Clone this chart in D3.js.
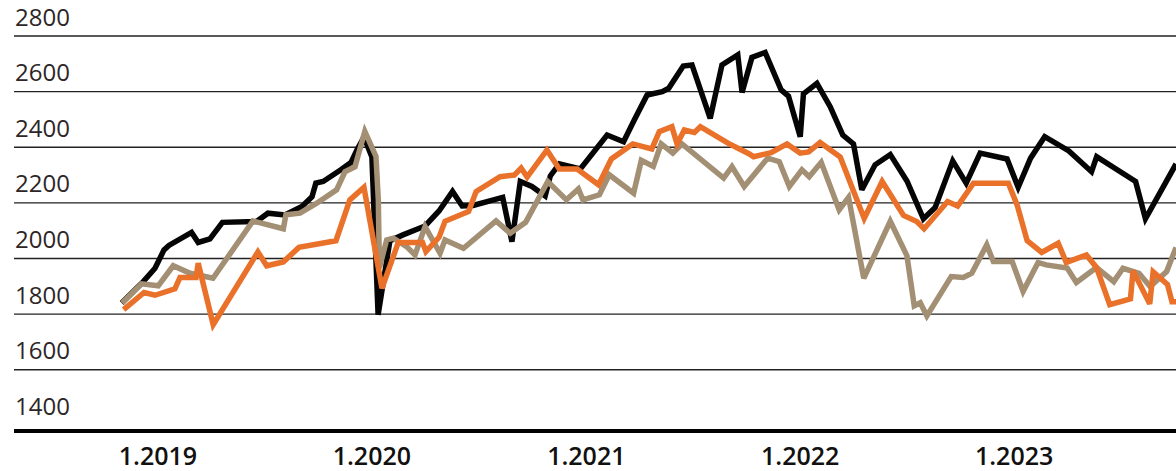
<!DOCTYPE html>
<html>
<head>
<meta charset="utf-8">
<script src="https://cdn.jsdelivr.net/npm/d3@7/dist/d3.min.js"></script>
<style>
  html, body { margin: 0; padding: 0; background: #fff; }
  svg { display: block; }
</style>
</head>
<body>
<svg id="chart" width="1176" height="471"></svg>
<script>
// Index levels, dates given as decimal years
const blackDates = [2018.830, 2018.931, 2018.986, 2019.028, 2019.051, 2019.157, 2019.188, 2019.243, 2019.301, 2019.461,
  2019.514, 2019.593, 2019.673, 2019.720, 2019.738, 2019.772, 2019.855, 2019.902, 2019.930, 2019.963,
  2020.000, 2020.029, 2020.084, 2020.145, 2020.248, 2020.313, 2020.376, 2020.421, 2020.472, 2020.610,
  2020.653, 2020.692, 2020.746, 2020.808, 2020.832, 2020.874, 2020.972, 2021.097, 2021.174, 2021.224,
  2021.284, 2021.355, 2021.385, 2021.453, 2021.494, 2021.579, 2021.634, 2021.708, 2021.728, 2021.774,
  2021.836, 2021.911, 2021.945, 2022.000, 2022.015, 2022.078, 2022.140, 2022.199, 2022.249, 2022.288,
  2022.350, 2022.421, 2022.499, 2022.576, 2022.631, 2022.713, 2022.776, 2022.841, 2022.967, 2023.019,
  2023.077, 2023.143, 2023.256, 2023.362, 2023.386, 2023.568, 2023.614, 2023.757];
const blackValues = [1840, 1917, 1965, 2031, 2047, 2094, 2058, 2071, 2130, 2133,
  2163, 2157, 2187, 2222, 2271, 2277, 2319, 2345, 2390, 2437,
  2365, 1798, 2064, 2085, 2117, 2171, 2241, 2189, 2191, 2220,
  2061, 2277, 2259, 2225, 2297, 2340, 2322, 2444, 2420, 2498,
  2588, 2600, 2612, 2692, 2696, 2504, 2696, 2732, 2597, 2723,
  2741, 2606, 2584, 2438, 2592, 2630, 2546, 2444, 2412, 2247,
  2337, 2374, 2279, 2143, 2184, 2351, 2271, 2379, 2358, 2256,
  2361, 2438, 2387, 2312, 2366, 2277, 2143, 2340];

const tanDates = [2018.832, 2018.923, 2019.001, 2019.071, 2019.150, 2019.257, 2019.444, 2019.586, 2019.598, 2019.664,
  2019.742, 2019.835, 2019.874, 2019.921, 2019.967, 2020.019, 2020.030, 2020.035, 2020.069, 2020.100,
  2020.162, 2020.201, 2020.248, 2020.318, 2020.341, 2020.427, 2020.579, 2020.645, 2020.717, 2020.820,
  2020.907, 2020.963, 2020.984, 2021.061, 2021.107, 2021.221, 2021.257, 2021.313, 2021.350, 2021.404,
  2021.447, 2021.642, 2021.681, 2021.738, 2021.848, 2021.902, 2021.949, 2022.008, 2022.042, 2022.098,
  2022.182, 2022.226, 2022.297, 2022.421, 2022.499, 2022.533, 2022.561, 2022.592, 2022.706, 2022.763,
  2022.802, 2022.872, 2022.903, 2022.991, 2023.042, 2023.112, 2023.150, 2023.248, 2023.291, 2023.385,
  2023.466, 2023.509, 2023.584, 2023.636, 2023.713, 2023.757];
const tanValues = [1840, 1909, 1902, 1974, 1947, 1929, 2135, 2107, 2157, 2163,
  2199, 2247, 2312, 2330, 2457, 2367, 2211, 1967, 2067, 2073,
  2043, 2013, 2115, 2019, 2067, 2037, 2135, 2091, 2130, 2277,
  2211, 2250, 2211, 2229, 2301, 2235, 2353, 2331, 2412, 2379,
  2412, 2289, 2330, 2259, 2361, 2348, 2259, 2319, 2294, 2346,
  2175, 2220, 1929, 2134, 2010, 1830, 1841, 1794, 1935, 1932,
  1947, 2049, 1989, 1989, 1882, 1986, 1977, 1966, 1914, 1968,
  1917, 1965, 1947, 1899, 1953, 2040];

const orangeDates = [2018.839, 2018.935, 2018.986, 2019.079, 2019.103, 2019.178, 2019.188, 2019.258, 2019.467, 2019.508,
  2019.586, 2019.659, 2019.832, 2019.897, 2019.963, 2020.047, 2020.123, 2020.236, 2020.252, 2020.313,
  2020.341, 2020.451, 2020.486, 2020.598, 2020.664, 2020.696, 2020.724, 2020.816, 2020.874, 2020.957,
  2021.057, 2021.117, 2021.217, 2021.306, 2021.341, 2021.400, 2021.424, 2021.458, 2021.505, 2021.533,
  2021.664, 2021.762, 2021.782, 2021.864, 2021.938, 2022.000, 2022.039, 2022.093, 2022.187, 2022.299,
  2022.383, 2022.483, 2022.545, 2022.579, 2022.689, 2022.736, 2022.810, 2022.973, 2023.014, 2023.061,
  2023.129, 2023.206, 2023.244, 2023.338, 2023.385, 2023.447, 2023.544, 2023.556, 2023.634, 2023.650,
  2023.717, 2023.738, 2023.757];
const orangeValues = [1816, 1878, 1868, 1891, 1932, 1932, 1983, 1762, 2024, 1974,
  1988, 2040, 2064, 2211, 2256, 1893, 2058, 2058, 2025, 2076,
  2134, 2169, 2241, 2294, 2300, 2325, 2293, 2390, 2322, 2322,
  2265, 2358, 2412, 2394, 2456, 2474, 2412, 2462, 2453, 2474,
  2414, 2376, 2366, 2381, 2412, 2379, 2383, 2417, 2365, 2144,
  2277, 2155, 2133, 2107, 2205, 2189, 2271, 2271, 2193, 2064,
  2022, 2055, 1986, 2013, 1968, 1834, 1855, 1956, 1837, 1952,
  1907, 1845, 1845];

const yTicks = [1400, 1600, 1800, 2000, 2200, 2400, 2600, 2800];
const xTickYears = [2019, 2020, 2021, 2022, 2023];
const xTickLabels = ["1.2019", "1.2020", "1.2021", "1.2022", "1.2023"];

function toDate(t) {
  const y = Math.floor(t);
  const start = new Date(y, 0, 1).getTime();
  const end = new Date(y + 1, 0, 1).getTime();
  return new Date(start + (t - y) * (end - start));
}

const svg = d3.select("#chart");
const W = 1176;

const x = d3.scaleTime()
  .domain([new Date(2019, 0, 1), new Date(2024, 0, 1)])
  .range([158, 1228]);
const y = d3.scaleLinear()
  .domain([1380, 2800])
  .range([431, 36]);

const left = 14;

// horizontal grid
svg.append("g")
  .selectAll("line")
  .data(yTicks.filter(v => v > 1400))
  .join("line")
  .attr("x1", left).attr("x2", W)
  .attr("y1", d => y(d)).attr("y2", d => y(d))
  .attr("stroke", "#222")
  .attr("stroke-width", 1.4);

// value labels
svg.append("g")
  .selectAll("text")
  .data(yTicks)
  .join("text")
  .attr("x", left + 1)
  .attr("y", d => y(d) - 10.5)
  .attr("font-family", "'Open Sans', sans-serif")
  .attr("font-size", 24)
  .attr("fill", "#2e2626")
  .text(d => d);

// series
const line = d3.line()
  .x(d => x(d[0]))
  .y(d => y(d[1]));

const series = [
  { dates: blackDates, values: blackValues, color: "#050505" },
  { dates: tanDates, values: tanValues, color: "#a38f73" },
  { dates: orangeDates, values: orangeValues, color: "#e9712a" }
];

series.forEach(s => {
  const pts = s.dates.map((t, i) => [toDate(t), s.values[i]]);
  svg.append("path")
    .datum(pts)
    .attr("d", line)
    .attr("fill", "none")
    .attr("stroke", s.color)
    .attr("stroke-width", 5.5)
    .attr("stroke-linejoin", "miter")
    .attr("stroke-miterlimit", 3);
});

// baseline
svg.append("line")
  .attr("x1", left).attr("x2", W)
  .attr("y1", y.range()[0]).attr("y2", y.range()[0])
  .attr("stroke", "#000")
  .attr("stroke-width", 4);

// year labels
svg.append("g")
  .selectAll("text")
  .data(xTickYears)
  .join("text")
  .attr("x", d => x(new Date(d, 0, 1)))
  .attr("y", 465)
  .attr("text-anchor", "middle")
  .attr("font-family", "'Open Sans', sans-serif")
  .attr("font-size", 25)
  .attr("font-weight", 600)
  .attr("fill", "#111")
  .text((d, i) => xTickLabels[i]);
</script>
</body>
</html>
